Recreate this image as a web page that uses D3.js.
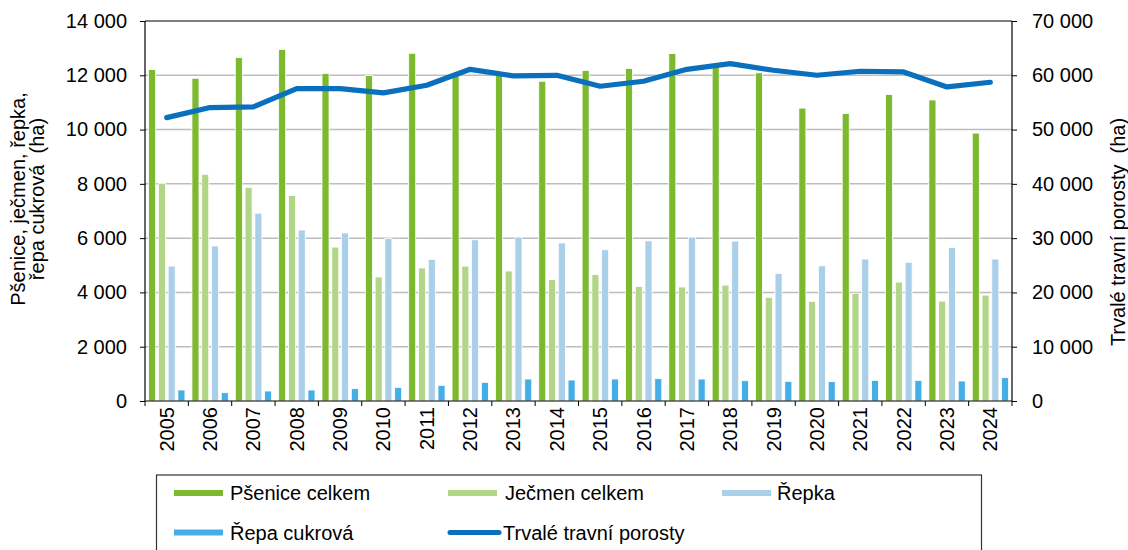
<!DOCTYPE html>
<html>
<head>
<meta charset="utf-8">
<script src="https://cdn.jsdelivr.net/npm/d3@7"></script>
<style>
  html, body { margin: 0; padding: 0; background: #fff; }
  svg { display: block; }
  text { font-family: "Liberation Sans", Arial, sans-serif; fill: #000; white-space: pre; }
</style>
</head>
<body>
<svg id="chart" width="1128" height="550"></svg>
<script>
const years = ["2005","2006","2007","2008","2009","2010","2011","2012","2013","2014","2015","2016","2017","2018","2019","2020","2021","2022","2023","2024"];
const psenice = [12210, 11890, 12650, 12950, 12070, 11990, 12810, 12050, 12000, 11780, 12180, 12250, 12800, 12300, 12090, 10790, 10590, 11290, 11090, 9870];
const jecmen = [8020, 8350, 7870, 7570, 5670, 4570, 4900, 4970, 4790, 4470, 4660, 4220, 4200, 4270, 3820, 3670, 3970, 4380, 3680, 3900];
const repka = [4970, 5710, 6920, 6300, 6190, 5990, 5220, 5940, 6040, 5820, 5570, 5900, 6040, 5890, 4700, 4980, 5230, 5110, 5660, 5230];
const repaCukrova = [405, 306, 368, 405, 454, 503, 577, 688, 810, 773, 810, 822, 810, 748, 724, 712, 761, 761, 736, 859];
const trvaleTravniPorosty = [52200, 54060, 54180, 57550, 57550, 56750, 58160, 61100, 59880, 60000, 57980, 58900, 61100, 62150, 60920, 60000, 60740, 60610, 57850, 58710];
const leftTicks = [0, 2000, 4000, 6000, 8000, 10000, 12000, 14000];
const rightTicks = [0, 10000, 20000, 30000, 40000, 50000, 60000, 70000];
const barSeries = ["Pšenice celkem", "Ječmen celkem", "Řepka", "Řepa cukrová"];
const lineSeries = "Trvalé travní porosty";
const leftTitle = ["Pšenice, ječmen, řepka,", "řepa cukrová  (ha)"];
const rightTitle = "Trvalé travní porosty  (ha)";

const colors = ["#7db92e", "#b2d687", "#a9cfe9", "#46aee7"];
const lineColor = "#0a70bd";
const barData = [psenice, jecmen, repka, repaCukrova];

const svg = d3.select("#chart");
const L = 145, R = 1012, T = 21, B = 401;

const fmt = d3.formatLocale({decimal: ",", thousands: " ", grouping: [3], currency: ["", ""]}).format(",");

const x = d3.scaleBand().domain(years).range([L, R]).padding(0);
const x1 = d3.scaleBand().domain(d3.range(4)).range([3.6, x.bandwidth() - 3.4]).paddingInner(0.28).paddingOuter(0);
const yL = d3.scaleLinear().domain([0, 14000]).range([B, T]);
const yR = d3.scaleLinear().domain([0, 70000]).range([B, T]);

// gridlines
svg.append("g").selectAll("line").data(leftTicks.filter(d => d > 0 && d < 14000)).join("line")
  .attr("x1", L).attr("x2", R).attr("y1", d => yL(d)).attr("y2", d => yL(d))
  .attr("stroke", "#bdbdbd").attr("stroke-width", 1.5);

// bars
const groups = svg.append("g").selectAll("g").data(years).join("g")
  .attr("transform", d => `translate(${x(d)},0)`);
groups.selectAll("rect").data((d, i) => barData.map((s, k) => ({k, v: s[i]}))).join("rect")
  .attr("x", d => x1(d.k)).attr("width", x1.bandwidth())
  .attr("y", d => yL(d.v)).attr("height", d => B - yL(d.v))
  .attr("fill", d => colors[d.k]).attr("stroke", "#fff").attr("stroke-width", 0.8);

// frame
svg.append("line").attr("x1", L).attr("x2", R).attr("y1", T).attr("y2", T).attr("stroke", "#000").attr("stroke-width", 1.2);

// axes
const axL = svg.append("g").attr("transform", `translate(${L},0)`)
  .call(d3.axisLeft(yL).tickValues(leftTicks).tickFormat(fmt).tickSize(5).tickPadding(13));
const axR = svg.append("g").attr("transform", `translate(${R},0)`)
  .call(d3.axisRight(yR).tickValues(rightTicks).tickFormat(fmt).tickSize(5).tickPadding(15));
const axB = svg.append("g").attr("transform", `translate(0,${B})`)
  .call(d3.axisBottom(x).tickSize(0).tickFormat(d => d));
[axL, axR, axB].forEach(a => {
  a.select(".domain").attr("stroke", "#000").attr("stroke-width", 1.2);
  a.selectAll(".tick line").attr("stroke", "#000");
  a.selectAll("text").style("font-size", "20px").style("font-family", '"Liberation Sans", Arial, sans-serif');
});
axL.select(".domain").attr("d", `M0,${T}V${B}`);
axR.select(".domain").attr("d", `M0,${T}V${B}`);
axB.select(".domain").attr("d", `M${L},0H${R}`);
axB.selectAll(".tick text")
  .attr("transform", "rotate(-90)").attr("text-anchor", "end")
  .attr("x", -6).attr("y", 0).attr("dy", "0.35em");
// category boundary ticks
svg.append("g").selectAll("line").data(d3.range(years.length + 1)).join("line")
  .attr("x1", i => L + i * x.step()).attr("x2", i => L + i * x.step())
  .attr("y1", B).attr("y2", B + 5).attr("stroke", "#000");

// line
const line = d3.line().x((d, i) => x(years[i]) + x.bandwidth() / 2).y(d => yR(d));
svg.append("path").datum(trvaleTravniPorosty).attr("d", line)
  .attr("fill", "none").attr("stroke", lineColor).attr("stroke-width", 5.2)
  .attr("stroke-linecap", "round").attr("stroke-linejoin", "round");

// axis titles
const lt = svg.append("text").attr("transform", "translate(0,199) rotate(-90)")
  .attr("text-anchor", "middle").style("font-size", "20px");
lt.append("tspan").attr("x", 0).attr("y", 25).text(leftTitle[0]);
lt.append("tspan").attr("x", 0).attr("y", 44).text(leftTitle[1]);
svg.append("text").attr("transform", "translate(1124.5,232) rotate(-90)")
  .attr("text-anchor", "middle").style("font-size", "20px").text(rightTitle);

// legend
svg.append("rect").attr("x", 156.5).attr("y", 475).attr("width", 825).attr("height", 100)
  .attr("fill", "none").attr("stroke", "#333").attr("stroke-width", 1.2);
const legendItems = [
  {name: barSeries[0], color: colors[0], sx: 174, tx: 230, y: 493, type: "bar"},
  {name: barSeries[1], color: colors[1], sx: 448, tx: 505, y: 493, type: "bar"},
  {name: barSeries[2], color: colors[2], sx: 722, tx: 777, y: 493, type: "bar"},
  {name: barSeries[3], color: colors[3], sx: 174, tx: 230, y: 532.5, type: "bar"},
  {name: lineSeries, color: lineColor, sx: 448, tx: 503, y: 532.5, type: "line"}
];
const lg = svg.append("g").selectAll("g").data(legendItems).join("g");
lg.append("line").attr("x1", d => d.sx + (d.type === "line" ? 2 : 0)).attr("x2", d => d.sx + (d.type === "line" ? 51 : 49))
  .attr("y1", d => d.y).attr("y2", d => d.y)
  .attr("stroke", d => d.color).attr("stroke-width", d => d.type === "line" ? 5 : 6)
  .attr("stroke-linecap", d => d.type === "line" ? "round" : "butt");
lg.append("text").attr("x", d => d.tx).attr("y", d => d.y).attr("dy", "0.35em")
  .style("font-size", "20px").text(d => d.name);
</script>
</body>
</html>
